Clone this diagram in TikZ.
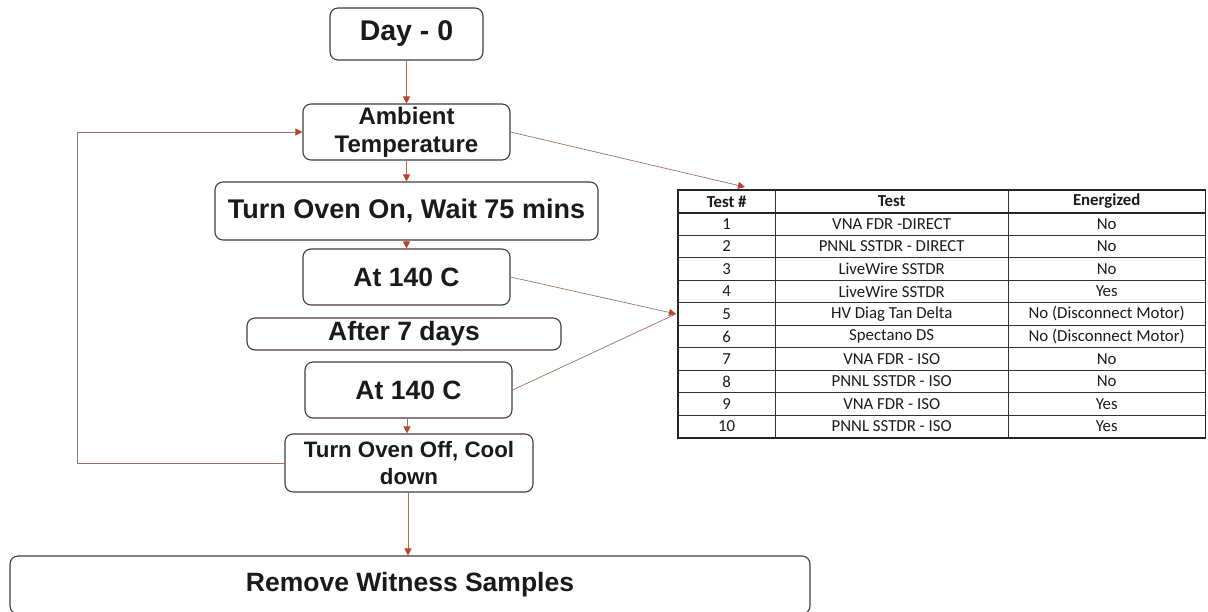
\documentclass[tikz,border=0pt]{standalone}
\usepackage{fontspec}
\setmainfont{Liberation Sans}[BoldFont={Liberation Sans Bold}]
\newfontfamily\tabfont{Carlito}
\usetikzlibrary{arrows.meta,matrix}
\definecolor{boxline}{RGB}{72,58,56}
\definecolor{connline}{RGB}{160,112,100}
\definecolor{tipred}{RGB}{185,68,42}
\definecolor{inkdark}{RGB}{26,26,26}
\tikzset{
  flowbox/.style={draw=boxline, line width=1.1pt, rounded corners=8pt, fill=white,
    text=inkdark, align=center, inner sep=0pt, font=\bfseries},
  conn/.style={draw=connline, line width=0.9pt,
    -{Triangle[length=7pt,width=7pt,color=tipred]}},
  plainconn/.style={draw=connline, line width=0.8pt},
  cell/.style={minimum height=22.5pt, inner sep=0pt, anchor=center, text=inkdark,
    font=\tabfont\fontsize{16.8}{18}\selectfont},
}
\begin{document}
\begin{tikzpicture}[x=1pt,y=-1pt]
\useasboundingbox (0,0) rectangle (1208,611);

% flowchart boxes
\node[flowbox, minimum width=153pt, minimum height=52pt, font=\bfseries\fontsize{28.5}{30}\selectfont] (day) at (406.5,34) {Day - 0};
\node[flowbox, minimum width=207pt, minimum height=56pt, font=\bfseries\fontsize{24}{28}\selectfont] (amb) at (406.5,132) {Ambient\\Temperature};
\node[flowbox, minimum width=383pt, minimum height=58pt, font=\bfseries\fontsize{27}{32}\selectfont] (on) at (406.5,211) {Turn Oven On, Wait 75 mins};
\node[flowbox, minimum width=207pt, minimum height=56pt, font=\bfseries\fontsize{26.5}{30}\selectfont] (at1) at (406.5,277) {At 140 C};
\node[flowbox, minimum width=314pt, minimum height=32pt, font=\bfseries\fontsize{26.5}{30}\selectfont] (after) at (404,334) {After 7 days};
\node[flowbox, minimum width=207pt, minimum height=56pt, font=\bfseries\fontsize{26.5}{30}\selectfont] (at2) at (408.5,390) {At 140 C};
\node[flowbox, minimum width=248pt, minimum height=58pt, font=\bfseries\fontsize{22.3}{27}\selectfont] (off) at (409,463) {Turn Oven Off, Cool\\down};
\node[flowbox, minimum width=800pt, minimum height=58pt, font=\bfseries\fontsize{26.5}{30}\selectfont] (rem) at (410,585) {Remove Witness Samples};

% test table
\matrix (tbl) [matrix of nodes, anchor=north west, row sep=0pt, column sep=0pt,
  inner sep=0pt, nodes={cell},
  column 1/.style={nodes={minimum width=97pt}},
  column 2/.style={nodes={minimum width=233pt}},
  column 3/.style={nodes={minimum width=197pt}},
  row 1/.style={nodes={font=\tabfont\bfseries\fontsize{16.8}{18}\selectfont}}]
  at (678,190) {
  Test \# & Test & Energized \\
  1 & VNA FDR -DIRECT & No \\
  2 & PNNL SSTDR - DIRECT & No \\
  3 & LiveWire SSTDR & No \\
  4 & LiveWire SSTDR & Yes \\
  5 & HV Diag Tan Delta & No (Disconnect Motor) \\
  6 & Spectano DS & No (Disconnect Motor) \\
  7 & VNA FDR - ISO & No \\
  8 & PNNL SSTDR - ISO & No \\
  9 & VNA FDR - ISO & Yes \\
  10 & PNNL SSTDR - ISO & Yes \\
};
% table rules
\foreach \r in {2,...,10}
  \draw[line width=0.9pt, draw=black!80] (tbl-\r-1.south west) -- (tbl-\r-3.south east);
\draw[line width=1.8pt, draw=black!85] (tbl-1-1.south west) -- (tbl-1-3.south east);
\draw[line width=0.9pt, draw=black!80] (tbl-1-1.north east) -- (tbl-11-1.south east);
\draw[line width=0.9pt, draw=black!80] (tbl-1-2.north east) -- (tbl-11-2.south east);
\draw[line width=1.4pt, draw=black!85] (tbl-1-1.north west) rectangle (tbl-11-3.south east);
\draw[line width=2pt, draw=black!85] (tbl-11-1.south west) -- (tbl-11-3.south east);

\coordinate (tblin) at ([xshift=-2pt]tbl.west);
\coordinate (tbltop) at ([yshift=3pt]tbl-1-1.north east -| 745,0);
\coordinate (loopb) at (77,463);
\coordinate (loopt) at (77,132);

% connectors
\draw[conn] (day.south) -- (amb.north);
\draw[conn] (amb.south) -- (on.north);
\draw[conn] (on.south) -- (at1.north);
\draw[conn] (at2.south -| 407,0) -- (off.north -| 407,0);
\draw[conn] (off.south -| 408,0) -- (rem.north -| 408,0);
\draw[conn] (off.west) -- (loopb) -- (loopt) -- (amb.west);
\draw[conn, line width=0.7pt] (amb.east) -- (tbltop);
\draw[conn, line width=0.7pt] (at1.east) -- (tblin);
\draw[plainconn, line width=0.7pt] (at2.east) -- (tblin);
\end{tikzpicture}
\end{document}
